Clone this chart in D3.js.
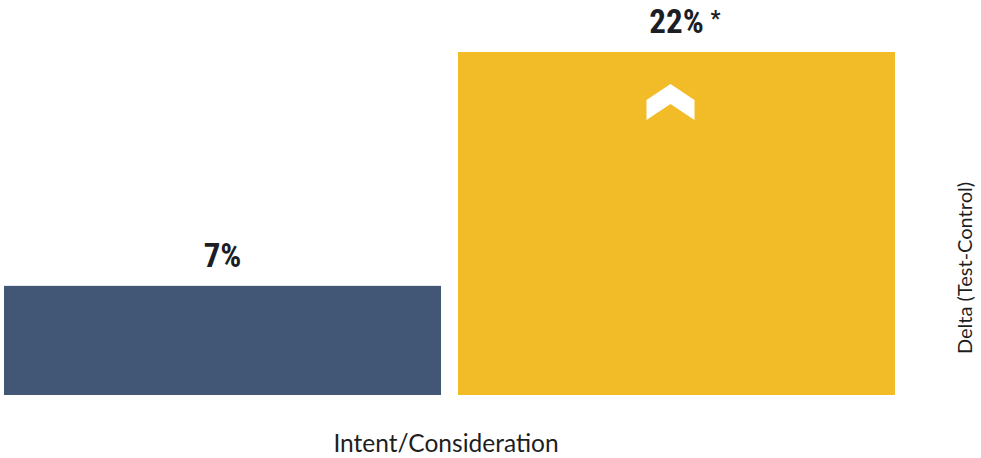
<!DOCTYPE html>
<html>
<head>
<meta charset="utf-8">
<script src="https://cdn.jsdelivr.net/npm/d3@7"></script>
<style>
  html, body { margin: 0; padding: 0; background: #fff; }
  svg { display: block; }
</style>
</head>
<body>
<svg id="chart" width="981" height="458"></svg>
<script>
// Delta (Test - Control) by metric
const categories = ["Intent/Consideration"];
const seriesNames = ["Control", "Test"];
const seriesValues = [7, 22];
const seriesLabels = ["7%", "22%"];
const significant = [false, true];
const seriesColors = ["#425775", "#F2BC29"];

const svg = d3.select("#chart");

const x = d3.scaleBand()
  .domain(seriesNames)
  .range([4, 895])
  .paddingInner(0.0374)
  .paddingOuter(0);

const y = d3.scaleLinear()
  .domain([0, 22])
  .range([395, 52]);

// bars
svg.selectAll("rect.bar")
  .data(seriesValues)
  .join("rect")
  .attr("class", "bar")
  .attr("x", (d, i) => x(seriesNames[i]))
  .attr("y", d => y(d))
  .attr("width", x.bandwidth())
  .attr("height", d => y(0) - y(d))
  .attr("fill", (d, i) => seriesColors[i]);

// value labels
const labelFont = "'Liberation Sans Narrow', 'Roboto Condensed', sans-serif";
svg.selectAll("text.val")
  .data(seriesValues)
  .join("text")
  .attr("class", "val")
  .attr("x", (d, i) => x(seriesNames[i]) + x.bandwidth() / 2)
  .attr("y", d => y(d) - 19)
  .attr("text-anchor", "middle")
  .attr("font-family", labelFont)
  .attr("font-weight", "bold")
  .attr("font-size", 33)
  .attr("fill", "#1b1e24")
  .text((d, i) => seriesLabels[i]);

// significance asterisk and upward chevron for the significant bar
seriesValues.forEach((d, i) => {
  if (!significant[i]) return;
  const cx = x(seriesNames[i]) + x.bandwidth() / 2;
  svg.append("text")
    .attr("x", cx + 34)
    .attr("y", y(d) - 26)
    .attr("font-family", labelFont)
    .attr("font-weight", "bold")
    .attr("font-size", 22)
    .attr("fill", "#1b1e24")
    .text("*");

  const top = y(d) + 32, w = 24, h = 36, notch = 20;
  const c = cx - 6;
  svg.append("path")
    .attr("d", `M${c},${top} L${c + w},${top + notch - 4} L${c + w},${top + h} L${c},${top + 20} L${c - w},${top + h} L${c - w},${top + notch - 4} Z`)
    .attr("fill", "#fff");
});

// category label
svg.append("text")
  .attr("x", 446)
  .attr("y", 452)
  .attr("text-anchor", "middle")
  .attr("font-family", "Lato, 'Noto Sans', sans-serif")
  .attr("font-size", 24.5)
  .attr("fill", "#1e1e1e")
  .text(categories[0]);

// axis title
svg.append("text")
  .attr("transform", "translate(972,268) rotate(-90)")
  .attr("text-anchor", "middle")
  .attr("font-family", "Lato, 'Noto Sans', sans-serif")
  .attr("font-size", 20)
  .attr("fill", "#1e1e1e")
  .text("Delta (Test-Control)");
</script>
</body>
</html>
